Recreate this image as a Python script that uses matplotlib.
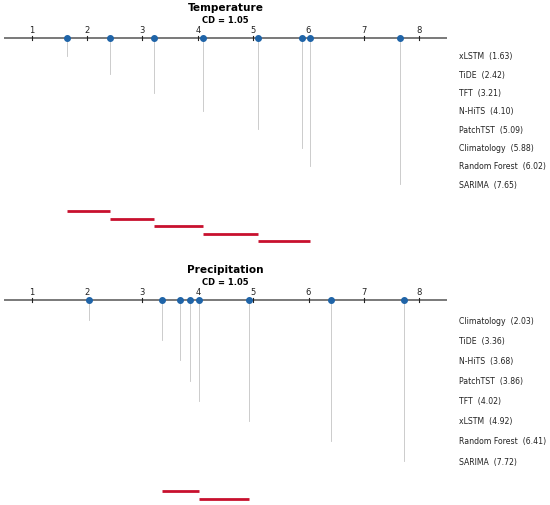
import numpy as np
import matplotlib.pyplot as plt

# Temperature panel
temp_models = ["xLSTM", "TiDE", "TFT", "N-HiTS", "PatchTST", "Climatology", "Random Forest", "SARIMA"]
temp_ranks = [1.63, 2.42, 3.21, 4.10, 5.09, 5.88, 6.02, 7.65]
temp_cliques = [(0, 1), (1, 2), (2, 3), (3, 4), (4, 6)]

# Precipitation panel
prec_models = ["Climatology", "TiDE", "N-HiTS", "PatchTST", "TFT", "xLSTM", "Random Forest", "SARIMA"]
prec_ranks = [2.03, 3.36, 3.68, 3.86, 4.02, 4.92, 6.41, 7.72]
prec_cliques = [(1, 4), (4, 5)]

cd_value = 1.05
tick_values = [1, 2, 3, 4, 5, 6, 7, 8]

W, H = 550, 506
fig = plt.figure(figsize=(W / 100, H / 100), dpi=100)

blue = "#1f64a8"
red = "#c8102e"


def cd_panel(axis_px, row_px, ylim, title, models, ranks, cliques):
    # axes placed so that one row = row_px pixels, main axis at axis_px
    top_px = axis_px + ylim[0] * row_px
    bot_px = axis_px + ylim[1] * row_px
    ax = fig.add_axes([4 / W, 1 - bot_px / H, 443 / W, (bot_px - top_px) / H])
    ax.set_xlim(0.5, 8.5)
    ax.set_ylim(ylim[1], ylim[0])
    ax.axis("off")

    # main axis with ticks
    ax.plot([0.5, 8.5], [0, 0], color="#555555", lw=1.1, zorder=2)
    for t in tick_values:
        ax.plot([t, t], [-0.08, 0.12], color="#222222", lw=0.8, zorder=2)
        ax.text(t, -4 / row_px, str(t), ha="center", va="bottom", fontsize=6, color="#222222")

    # models: drop lines, markers, labels
    for k, (m, r) in enumerate(zip(models, ranks), start=1):
        ax.plot([r, r], [0, k], color="#c4c4c4", lw=0.6, zorder=1)
        ax.plot(r, 0, "o", color=blue, ms=4, zorder=3)
        ax.text(8.71, k, f"{m}  ({r:.2f})", ha="left", va="center",
                fontsize=5.6, color="#222222", clip_on=False)

    # critical difference bars
    for j, (a, b) in enumerate(cliques):
        y = 9.47 + j * 0.41
        ax.plot([ranks[a], ranks[b]], [y, y], color=red, lw=2.0, solid_capstyle="butt")

    ax.text(4.5, -31 / row_px, title, ha="center", va="center",
            fontsize=7.6, fontweight="bold", clip_on=False)
    ax.text(4.5, -18.5 / row_px, f"CD = {cd_value:.2f}", ha="center", va="center",
            fontsize=6, fontweight="bold", clip_on=False)
    return ax


cd_panel(38.7, 18.3, (-1.2, 11.7), "Temperature", temp_models, temp_ranks, temp_cliques)
cd_panel(301.0, 20.14, (-0.8, 10.1), "Precipitation", prec_models, prec_ranks, prec_cliques)

fig.savefig("out.png", dpi=100)
